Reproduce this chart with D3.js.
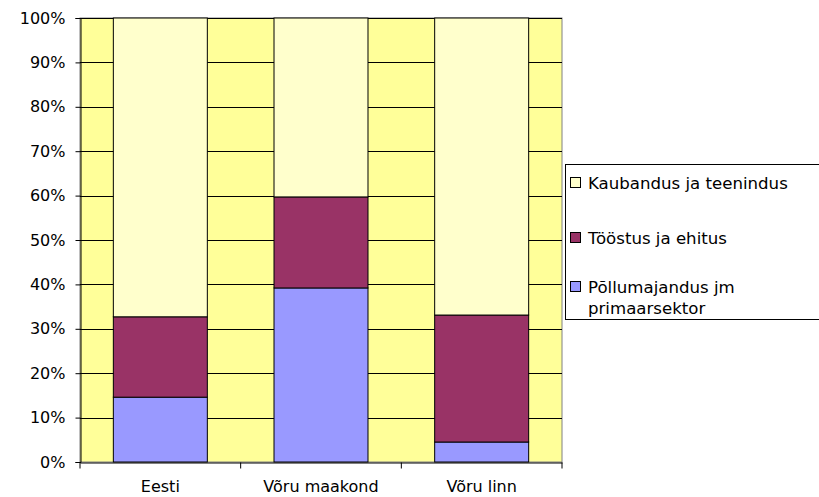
<!DOCTYPE html>
<html>
<head>
<meta charset="utf-8">
<script src="https://cdn.jsdelivr.net/npm/d3@7"></script>
<style>
  body { margin: 0; background: #fff; }
  svg { display: block; font-family: 'DejaVu Sans', Verdana, sans-serif; }
</style>
</head>
<body>
<div id="chart"></div>
<script>
'use strict'

const categories = ['Eesti', 'Võru maakond', 'Võru linn']
const seriesNames = ['Põllumajandus jm primaarsektor', 'Tööstus ja ehitus', 'Kaubandus ja teenindus']
const primaar = [14.6, 39.2, 4.5]
const toostus = [18.1, 20.5, 28.6]
const kaubandus = [67.3, 40.3, 66.9]
const yTicks = [0, 10, 20, 30, 40, 50, 60, 70, 80, 90, 100]
const colors = ['#9999FF', '#993366', '#FFFFCC']

const font = "'DejaVu Sans', Verdana, sans-serif"

const width = 819,
    height = 497,
    margin = {top: 18, right: 257, bottom: 35, left: 80}

const svg = d3.select('#chart')
    .append('svg')
    .attr('width', width)
    .attr('height', height)

const rows = categories.map((c, i) => ({
    cat: c,
    [seriesNames[0]]: primaar[i],
    [seriesNames[1]]: toostus[i],
    [seriesNames[2]]: kaubandus[i]
}))
const stacked = d3.stack().keys(seriesNames)(rows)

const x = d3.scaleBand()
    .domain(categories)
    .range([margin.left, width - margin.right])
    .padding(0)

const y = d3.scaleLinear()
    .domain([0, 100])
    .range([height - margin.bottom, margin.top])

const barW = x.bandwidth() * 0.585

// plot background
svg.append('rect')
    .attr('x', margin.left)
    .attr('y', margin.top)
    .attr('width', width - margin.left - margin.right)
    .attr('height', height - margin.top - margin.bottom)
    .attr('fill', '#FFFF99')
    .attr('stroke', '#808080')
    .attr('stroke-width', 1)

// gridlines
svg.append('g')
    .selectAll('line')
    .data(yTicks.filter(d => d > 0))
    .join('line')
    .attr('x1', margin.left)
    .attr('x2', width - margin.right)
    .attr('y1', d => Math.round(y(d)) + 0.5)
    .attr('y2', d => Math.round(y(d)) + 0.5)
    .attr('stroke', '#000')

// bars
svg.append('g')
    .selectAll('g')
    .data(stacked)
    .join('g')
    .attr('fill', (d, i) => colors[i])
    .selectAll('rect')
    .data(d => d)
    .join('rect')
    .attr('x', d => x(d.data.cat) + (x.bandwidth() - barW) / 2)
    .attr('y', d => y(d[1]))
    .attr('width', barW)
    .attr('height', d => y(d[0]) - y(d[1]))
    .attr('stroke', '#000')
    .attr('stroke-width', 1)

// y axis
const yAxis = svg.append('g')
    .attr('transform', `translate(${margin.left + 0.5},0)`)
    .call(d3.axisLeft(y).tickValues(yTicks).tickFormat(d => d + '%').tickSize(5).tickPadding(10))
yAxis.select('.domain').attr('stroke', '#000')
yAxis.selectAll('text').style('font-size', '16px').style('font-family', font).attr('fill', '#000')

// x axis
const xAxis = svg.append('g')
    .attr('transform', `translate(0,${Math.round(y(0)) + 0.5})`)
    .call(d3.axisBottom(x).tickSize(0).tickPadding(18))
xAxis.select('.domain').attr('stroke', '#000')
xAxis.selectAll('text').style('font-size', '16px').style('font-family', font).attr('fill', '#000')
xAxis.selectAll('.boundary')
    .data(d3.range(categories.length + 1))
    .join('line')
    .attr('class', 'boundary')
    .attr('x1', i => i < categories.length ? x(categories[i]) : x.range()[1])
    .attr('x2', i => i < categories.length ? x(categories[i]) : x.range()[1])
    .attr('y1', 0)
    .attr('y2', 6)
    .attr('stroke', '#000')

// legend
svg.append('rect')
    .attr('x', 565.5)
    .attr('y', 164.5)
    .attr('width', 270)
    .attr('height', 155)
    .attr('fill', '#fff')
    .attr('stroke', '#000')

const legendItems = [
    {lines: ['Kaubandus ja teenindus'], color: colors[2], y: 183},
    {lines: ['Tööstus ja ehitus'], color: colors[1], y: 238},
    {lines: ['Põllumajandus jm', 'primaarsektor'], color: colors[0], y: 287}
]
const li = svg.append('g')
    .selectAll('g')
    .data(legendItems)
    .join('g')
li.append('rect')
    .attr('x', 570.5)
    .attr('y', d => d.y - 5.5)
    .attr('width', 10)
    .attr('height', 10)
    .attr('fill', d => d.color)
    .attr('stroke', '#000')
li.append('text')
    .attr('x', 588)
    .attr('y', d => d.y + 6)
    .style('font-size', '16.6px')
    .selectAll('tspan')
    .data(d => d.lines)
    .join('tspan')
    .attr('x', 588)
    .attr('dy', (d, i) => i ? 21 : 0)
    .text(d => d)
</script>
</body>
</html>
